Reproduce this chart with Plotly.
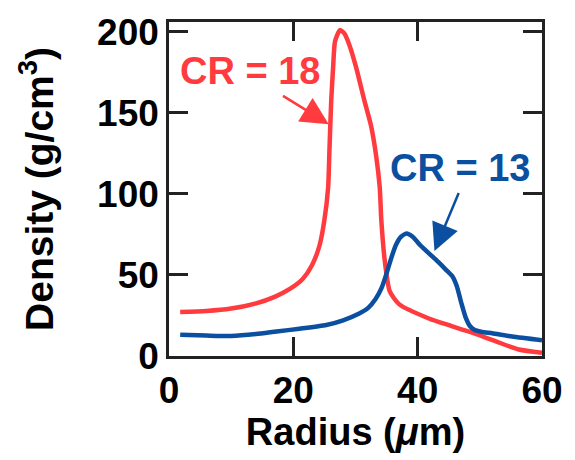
import plotly.graph_objects as go

# CR = 18 (red)
x_cr18 = [1.8, 6, 10, 14, 17, 19.5, 21.5, 23.0, 24.2, 25.0, 25.6, 25.8, 26.1, 26.4, 26.7,
          27.5, 28.2, 29.0, 30.1, 31.4, 32.5, 33.3, 33.9, 34.15, 34.7, 35.5, 37.0, 41.9,
          45, 48.3, 52.6, 56.3, 60]
y_cr18 = [27.2, 27.8, 29.3, 32.5, 36.5, 41.5, 47.5, 56, 68, 84, 104, 126, 158, 178, 194,
          201, 199, 192, 178, 158, 142, 124, 104, 84, 59, 40, 32, 23,
          19, 15, 9, 4, 2]

# CR = 13 (blue)
x_cr13 = [1.8, 6, 10, 14, 17.3, 21, 25.3, 28, 30.6, 32.0, 33.2, 34.2, 35.0, 35.8, 36.5,
          37.3, 38.2, 39.2, 40.5, 41.9, 43.3, 44.6, 45.6, 46.3, 47.0, 47.7, 48.4, 49.2,
          50.2, 52, 55.2, 60]
y_cr13 = [13.1, 12.6, 12.3, 13.5, 15.1, 16.8, 19.1, 22, 26.2, 29.5, 35, 42, 51, 61, 68.5,
          73.5, 75.5, 73.5, 68, 63, 58, 53, 49, 43, 33, 24, 18.5, 16,
          15, 14, 12, 9.7]

x_ticks = [0, 20, 40, 60]
y_ticks = [0, 50, 100, 150, 200]

RED = "#FF3B3F"
BLUE = "#0A4FA0"
FONT = "Liberation Sans"

fig = go.Figure()
fig.add_trace(go.Scatter(x=x_cr18, y=y_cr18, mode="lines",
                         line=dict(color=RED, width=4.5, shape="spline", smoothing=0.6)))
fig.add_trace(go.Scatter(x=x_cr13, y=y_cr13, mode="lines",
                         line=dict(color=BLUE, width=4.5, shape="spline", smoothing=0.6)))

axis_common = dict(showline=True, linecolor="#222222", linewidth=2.5, mirror="ticks",
                   ticks="inside", ticklen=19, tickwidth=2.5, tickcolor="#222222",
                   showgrid=False, zeroline=False,
                   tickfont=dict(family=FONT, size=37, color="black", weight="bold"))

fig.update_xaxes(range=[0, 60], tickvals=x_ticks, **axis_common,
                 title=dict(text="Radius (<i>μ</i>m)", standoff=8,
                            font=dict(family=FONT, size=38, color="black", weight="bold")))
fig.update_yaxes(range=[0, 206], tickvals=y_ticks, **axis_common,
                 title=dict(text="Density (g/cm<sup>3</sup>)", standoff=32,
                            font=dict(family=FONT, size=39, color="black", weight="bold")))

fig.add_annotation(x=13.0, y=176, text="CR = 18", showarrow=False,
                   font=dict(family=FONT, size=38, color=RED, weight="bold"))
fig.add_annotation(x=46.8, y=116, text="CR = 13", showarrow=False,
                   font=dict(family=FONT, size=38, color=BLUE, weight="bold"))
fig.add_annotation(x=25.7, y=143, ax=18.1, ay=161, axref="x", ayref="y", text="",
                   showarrow=True, arrowhead=2, arrowsize=2.2, arrowwidth=2.5, arrowcolor=RED)
fig.add_annotation(x=42.7, y=64.7, ax=46.7, ay=101.5, axref="x", ayref="y", text="",
                   showarrow=True, arrowhead=2, arrowsize=2.2, arrowwidth=2.5, arrowcolor=BLUE)

fig.update_layout(width=575, height=460, margin=dict(l=169, r=32, t=14, b=104),
                  paper_bgcolor="white", plot_bgcolor="white", showlegend=False)

fig.write_html("out.html")
